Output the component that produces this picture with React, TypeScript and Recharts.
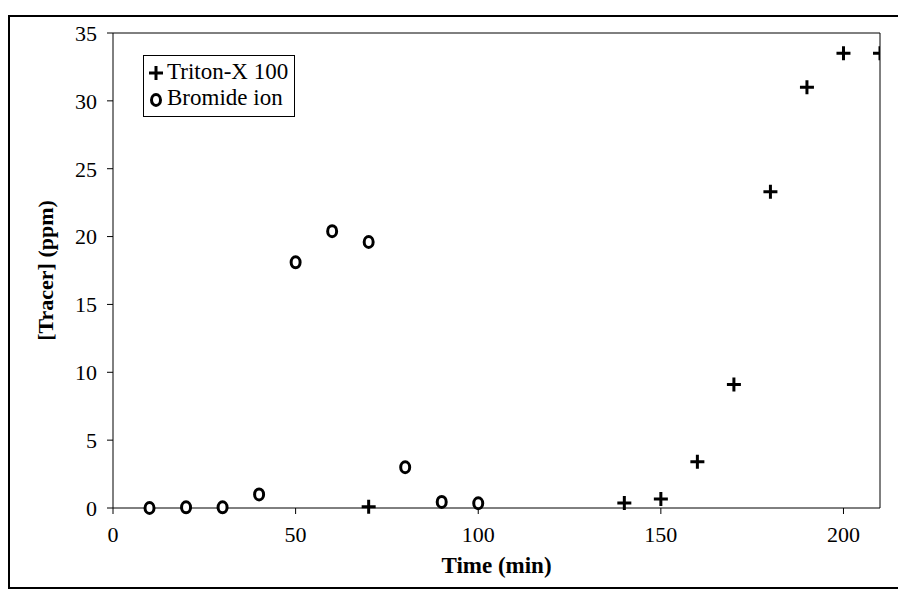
import React from "react";
import {
  ScatterChart,
  Scatter,
  XAxis,
  YAxis,
  ReferenceLine,
  Legend,
  Label,
} from "recharts";

// sampling times (min) and measured concentrations (ppm)
const bromideTime = [10, 20, 30, 40, 50, 60, 70, 80, 90, 100];
const bromidePpm = [0.0, 0.05, 0.05, 1.0, 18.1, 20.4, 19.6, 3.0, 0.45, 0.35];

const tritonTime = [70, 140, 150, 160, 170, 180, 190, 200, 210];
const tritonPpm = [0.1, 0.37, 0.67, 3.4, 9.1, 23.3, 31.0, 33.5, 33.5];

const seriesNames = ["Triton-X 100", "Bromide ion"];

const xTicks = [0, 50, 100, 150, 200];
const yTicks = [0, 5, 10, 15, 20, 25, 30, 35];

const bromideData = bromideTime.map((t, i) => ({ t, c: bromidePpm[i] }));
const tritonData = tritonTime.map((t, i) => ({ t, c: tritonPpm[i] }));

const FONT = '"Liberation Serif", "Times New Roman", serif';

function Cross({ cx, cy }: any) {
  return (
    <path
      d={`M${cx - 7},${cy}H${cx + 7}M${cx},${cy - 7}V${cy + 7}`}
      stroke="#000"
      strokeWidth={3}
      fill="none"
    />
  );
}

function Ring({ cx, cy }: any) {
  return (
    <ellipse cx={cx} cy={cy} rx={4.5} ry={5.5} fill="#fff" stroke="#000" strokeWidth={3} />
  );
}

function LegendBox({ payload }: any) {
  // keep the series in their plotting order
  const items = [...(payload || [])].sort(
    (a: any, b: any) => seriesNames.indexOf(a.value) - seriesNames.indexOf(b.value)
  );
  return (
    <div
      style={{
        border: "1px solid #000",
        background: "#fff",
        padding: "3px 6px 5px 4px",
        fontFamily: FONT,
        fontSize: 23,
        color: "#000",
        lineHeight: "26px",
      }}
    >
      {items.map((entry: any) => (
        <div key={entry.value} style={{ display: "flex", alignItems: "center" }}>
          <svg width={18} height={18} style={{ marginRight: 1 }}>
            {entry.value === seriesNames[0] ? <Cross cx={8} cy={10} /> : <Ring cx={8} cy={11} />}
          </svg>
          <span>{entry.value}</span>
        </div>
      ))}
    </div>
  );
}

export default function App() {
  return (
    <div
      style={{
        marginTop: 7,
        width: 910,
        height: 570,
        borderLeft: "2px solid #000",
        borderTop: "2px solid #000",
        borderBottom: "2px solid #000",
        background: "#fff",
      }}
    >
      <ScatterChart
        width={896}
        height={568}
        margin={{ top: 16, right: 26, bottom: 17, left: 23 }}
      >
        <XAxis
          type="number"
          dataKey="t"
          domain={[0, 210]}
          ticks={xTicks}
          allowDataOverflow
          stroke="#000"
          tickSize={6}
          tickMargin={12}
          height={60}
          tick={{ fill: "#000", fontSize: 22, fontFamily: FONT }}
        >
          <Label
            value="Time (min)"
            position="insideBottom"
            offset={-5}
            style={{ fill: "#000", fontSize: 23, fontWeight: "bold", fontFamily: FONT }}
          />
        </XAxis>
        <YAxis
          type="number"
          dataKey="c"
          domain={[0, 35]}
          ticks={yTicks}
          stroke="#000"
          tickSize={6}
          tickMargin={10}
          width={80}
          tick={{ fill: "#000", fontSize: 22, fontFamily: FONT }}
        >
          <Label
            value="[Tracer] (ppm)"
            angle={-90}
            position="insideLeft"
            offset={12}
            style={{
              fill: "#000",
              fontSize: 22,
              fontWeight: "bold",
              fontFamily: FONT,
              textAnchor: "middle",
            }}
          />
        </YAxis>
        <ReferenceLine y={35} stroke="#000" />
        <ReferenceLine x={210} stroke="#000" />
        <Legend
          layout="vertical"
          align="center"
          verticalAlign="middle"
          wrapperStyle={{ top: 38, left: 133, width: "auto" }}
          content={<LegendBox />}
        />
        <Scatter
          name={seriesNames[0]}
          data={tritonData}
          shape={<Cross />}
          isAnimationActive={false}
        />
        <Scatter
          name={seriesNames[1]}
          data={bromideData}
          shape={<Ring />}
          isAnimationActive={false}
        />
      </ScatterChart>
    </div>
  );
}
